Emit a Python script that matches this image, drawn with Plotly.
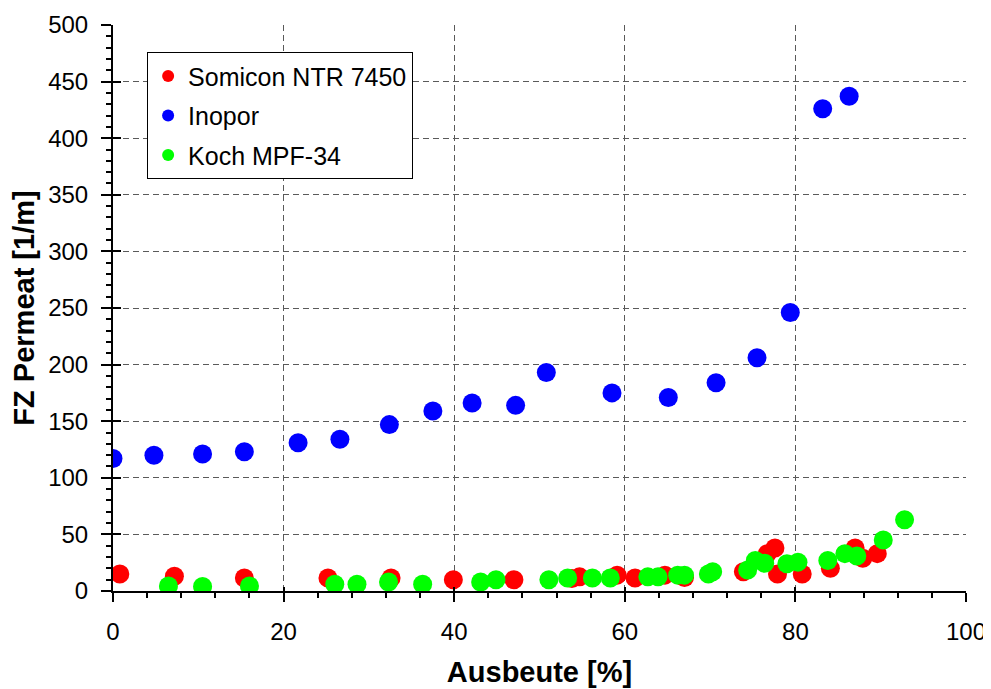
import plotly.graph_objects as go

somicon_x = [0.8, 7.2, 15.4, 25.2, 32.6, 39.9, 47.0, 53.8, 54.7, 59.1, 61.2, 64.7, 67.0,
             73.9, 76.7, 77.6, 77.9, 80.8, 84.1, 87.0, 87.9, 89.6]
somicon_y = [15, 13, 11.5, 11.5, 11.5, 10, 10, 11, 12.5, 14, 11.5, 14, 12,
             17, 33, 38, 15, 15, 20, 38, 29, 33]

inopor_x = [0.0, 4.8, 10.5, 15.4, 21.7, 26.6, 32.4, 37.5, 42.1, 47.2, 50.8, 58.5, 65.1,
            70.7, 75.5, 79.4, 83.2, 86.3]
inopor_y = [117, 120, 121, 123, 131, 134, 147, 159, 166, 164, 193, 175, 171,
            184, 206, 246, 426, 437]

koch_x = [6.5, 10.5, 16.0, 26.0, 28.6, 32.3, 36.3, 43.1, 44.9, 51.1, 53.3, 56.2, 58.3,
          62.7, 63.9, 66.2, 67.0, 69.8, 70.3, 74.4, 75.3, 76.4, 79.0, 80.3, 83.8, 85.8,
          87.2, 90.3, 92.8]
koch_y = [4.5, 4, 4.5, 6, 6, 8, 6, 8, 10, 10, 11.5, 11.5, 11.5,
          12.5, 12.5, 14, 14, 15, 17, 18.5, 27, 24.5, 24, 25.5, 27, 33,
          31, 45, 63]

x_ticks = [0, 20, 40, 60, 80, 100]
y_ticks = [0, 50, 100, 150, 200, 250, 300, 350, 400, 450, 500]
x_grid = [20, 40, 60, 80]
y_grid = [50, 100, 150, 200, 250, 300, 350, 400, 450]

FONT = "Liberation Sans, Arial, sans-serif"
MS = 19
GRID = dict(showgrid=True, gridcolor="#5a5a5a", griddash="6px,4px", gridwidth=1)

fig = go.Figure()
# helper traces so overlay axes are drawn
fig.add_trace(go.Scatter(x=[None], y=[None], xaxis="x2", yaxis="y2", showlegend=False,
                         hoverinfo="skip"))
fig.add_trace(go.Scatter(x=[None], y=[None], xaxis="x3", yaxis="y3", showlegend=False,
                         hoverinfo="skip"))
fig.add_trace(go.Scatter(x=somicon_x, y=somicon_y, mode="markers", name="Somicon NTR 7450",
                         marker=dict(color="#ff0000", size=MS), legendgroup="a"))
fig.add_trace(go.Scatter(x=inopor_x, y=inopor_y, mode="markers", name="Inopor",
                         marker=dict(color="#0000ff", size=MS), legendgroup="b"))
fig.add_trace(go.Scatter(x=koch_x, y=koch_y, mode="markers", name="Koch MPF-34",
                         marker=dict(color="#00ff00", size=MS), legendgroup="c"))

fig.update_layout(
    width=991, height=689,
    margin=dict(l=105, r=33, t=17, b=106, autoexpand=False),
    paper_bgcolor="white", plot_bgcolor="white",
    font=dict(family=FONT, size=24, color="black"),
    showlegend=True,
    legend=dict(x=0.04, y=0.952, xanchor="left", yanchor="top",
                bordercolor="black", borderwidth=1, bgcolor="white",
                font=dict(size=25), tracegroupgap=4, itemsizing="constant",
                itemwidth=30),
    xaxis=dict(range=[0, 100], tickvals=x_ticks, showgrid=False, zeroline=False,
               showline=True, linecolor="black", linewidth=2, automargin=False,
               ticks="outside", ticklen=9, tickwidth=2, tickcolor="black",
               ticklabelstandoff=9,
               minor=dict(dtick=4, tick0=0, ticks="outside", ticklen=5, tickwidth=2,
                          tickcolor="black"),
               title=dict(text="<b>Ausbeute [%]</b>", standoff=18),
               tickfont=dict(size=24)),
    yaxis=dict(range=[0, 500], tickvals=y_ticks, showgrid=False, zeroline=False,
               showline=True, linecolor="black", linewidth=2, automargin=False,
               ticks="outside", ticklen=10, tickwidth=2, tickcolor="black",
               ticklabelstandoff=8,
               minor=dict(dtick=10, tick0=0, ticks="outside", ticklen=5, tickwidth=2,
                          tickcolor="black"),
               title=dict(text="<b>FZ Permeat [1/m]</b>", standoff=20),
               tickfont=dict(size=24)),
    xaxis2=dict(overlaying="x", range=[0, 100], tickvals=x_grid, showticklabels=False,
                ticks="", zeroline=False, showline=False, layer="below traces", **GRID),
    yaxis2=dict(overlaying="y", range=[0, 500], tickvals=y_grid, showticklabels=False,
                ticks="", zeroline=False, showline=False, layer="below traces", **GRID),
    xaxis3=dict(overlaying="x", range=[0, 100], tickvals=x_ticks, showticklabels=False,
                ticks="inside", ticklen=4, tickwidth=2, tickcolor="black",
                showgrid=False, zeroline=False, showline=False, side="bottom"),
    yaxis3=dict(overlaying="y", range=[0, 500], tickvals=y_ticks, showticklabels=False,
                ticks="inside", ticklen=8, tickwidth=2, tickcolor="black",
                showgrid=False, zeroline=False, showline=False, side="left"),
)

fig.write_html("out.html")
